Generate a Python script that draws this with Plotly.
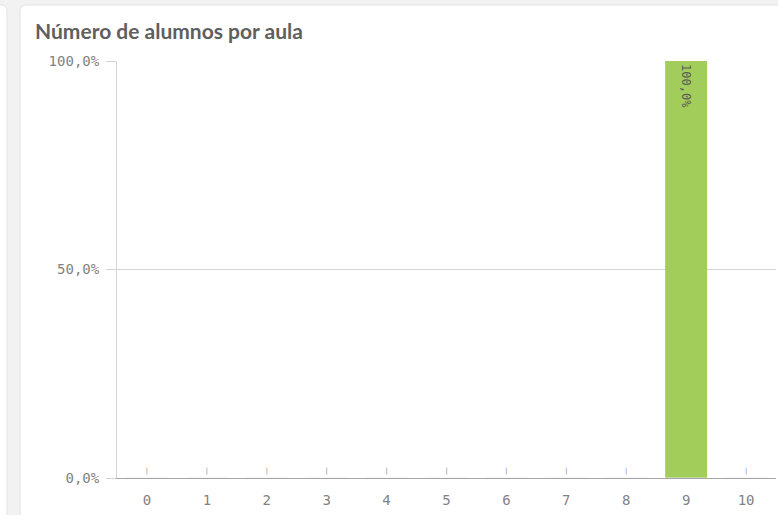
import plotly.graph_objects as go

categories = ["0", "1", "2", "3", "4", "5", "6", "7", "8", "9", "10"]
shares = [0, 0, 0, 0, 0, 0, 0, 0, 0, 1.0, 0]
title_text = "Número de alumnos por aula"
y_tickvals = [0, 0.5, 1.0]

W, H = 778, 515
ML, MR, MT, MB = 117, 2, 61, 37
pw, ph = W - ML - MR, H - MT - MB

def px(x):
    return (x - ML) / pw

def py(y):
    return (H - MB - y) / ph

mono = "DejaVu Sans Mono"

bar_labels = ["" if v == 0 else f"{v*100:.1f}%".replace(".", ",") for v in shares]
zero_marks = ["|" if v == 0 else "" for v in shares]

fig = go.Figure()
fig.add_trace(go.Bar(
    x=categories, y=shares, width=0.7,
    marker=dict(color="#a2cd5b", line=dict(width=0)),
    text=bar_labels, textposition="inside", insidetextanchor="end",
    textangle=90, textfont=dict(family=mono, size=12, color="#595959"),
    cliponaxis=False, hoverinfo="skip", showlegend=False,
))
fig.add_trace(go.Bar(
    x=categories, y=[0 for _ in shares], width=0.7,
    marker=dict(color="rgba(0,0,0,0)"),
    text=zero_marks, textposition="outside",
    textfont=dict(family=mono, size=7, color="#8c8c8c"),
    cliponaxis=False, hoverinfo="skip", showlegend=False,
))

def rounded(x0, y0, x1, y1, r):
    return (f"M {px(x0+r)} {py(y0)} L {px(x1-r)} {py(y0)} "
            f"Q {px(x1)} {py(y0)} {px(x1)} {py(y0+r)} L {px(x1)} {py(y1)} "
            f"L {px(x0)} {py(y1)} L {px(x0)} {py(y0+r)} "
            f"Q {px(x0)} {py(y0)} {px(x0+r)} {py(y0)} Z")

shapes = [
    dict(type="path", xref="paper", yref="paper", layer="below",
         path=rounded(20, 5, 800, 530, 6),
         fillcolor="white", line=dict(color="#e3e3e3", width=1)),
    dict(type="path", xref="paper", yref="paper", layer="below",
         path=rounded(-30, 5, 7, 530, 6),
         fillcolor="white", line=dict(color="#e3e3e3", width=1)),
]

fig.update_layout(
    width=W, height=H,
    margin=dict(l=ML, r=MR, t=MT, b=MB, pad=0),
    paper_bgcolor="#f2f2f2", plot_bgcolor="white",
    barmode="overlay", separators=",.",
    shapes=shapes,
    title=dict(text=f"<b>{title_text}</b>", x=35 / W, xanchor="left",
               y=1 - 32 / H, yanchor="middle",
               font=dict(family="Lato", size=21, color="#5f5f5f")),
    xaxis=dict(type="category", range=[-0.5, 10.5], showgrid=False,
               showline=True, linecolor="#a6a6a6", linewidth=1,
               ticks="", tickfont=dict(family=mono, size=14, color="#828282"),
               ticklabelstandoff=9, fixedrange=True),
    yaxis=dict(range=[0, 1.0], tickvals=y_tickvals, tickformat=".1%",
               showgrid=True, gridcolor="#d4d4d4", gridwidth=1,
               zeroline=False, showline=True, linecolor="#d4d4d4",
               ticks="outside", ticklen=10, tickcolor="#d4d4d4",
               tickfont=dict(family=mono, size=14, color="#828282"),
               ticklabelstandoff=4, fixedrange=True),
)

fig.write_html("out.html", config={"displayModeBar": False},
               post_script="document.body.style.margin='0';document.body.style.overflow='hidden';")
